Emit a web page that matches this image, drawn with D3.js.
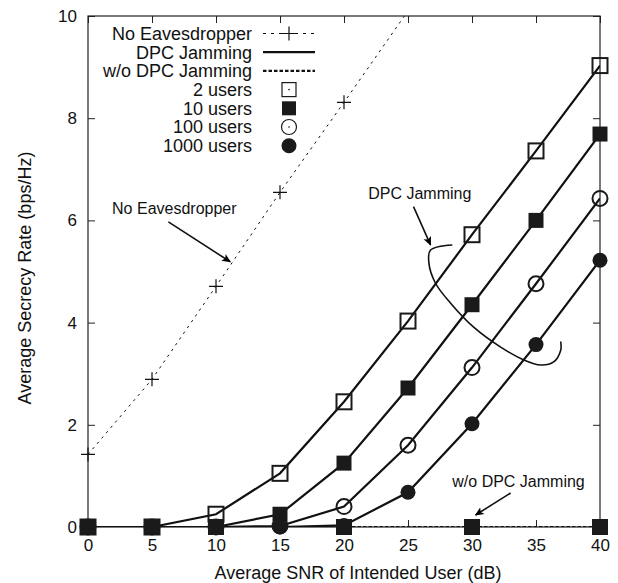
<!DOCTYPE html>
<html>
<head>
<meta charset="utf-8">
<script src="https://cdn.jsdelivr.net/npm/d3@7"></script>
<style>
  body { margin: 0; background: #fff; }
  svg { display: block; font-family: "Liberation Sans", Arial, Helvetica, sans-serif; }
</style>
</head>
<body>
<svg id="chart" width="618" height="583"></svg>
<script>
const width = 618;
const height = 583;

// x values (dB) and the series
const snr = [0, 5, 10, 15, 20, 25, 30, 35, 40];
const snrNoEve = [0, 5, 10, 15, 20, 25];
const noEve = [1.42, 2.89, 4.71, 6.55, 8.31, 10.1];
const dpc2 = [0, 0, 0.25, 1.05, 2.45, 4.03, 5.72, 7.36, 9.03];
const dpc10 = [0, 0, 0, 0.25, 1.25, 2.72, 4.35, 6.0, 7.69];
const dpc100 = [0, 0, 0, 0.02, 0.4, 1.6, 3.12, 4.76, 6.43];
const dpc1000 = [0, 0, 0, 0, 0.03, 0.68, 2.02, 3.57, 5.22];
const woDpc = [0, 0, 0, 0, 0, 0, 0, 0, 0];
const woDpcMarkX = [0, 10, 20, 30, 40];

const xTicks = [0, 5, 10, 15, 20, 25, 30, 35, 40];
const yTicks = [0, 2, 4, 6, 8, 10];

const legendLabels = ["No Eavesdropper", "DPC Jamming", "w/o DPC Jamming",
    "2 users", "10 users", "100 users", "1000 users"];

// annotation anchors, in data units
const ellipse = [[28.46, 5.52], [26.76, 5.42], [26.63, 5.17], [27.15, 4.77], [28.33, 4.38],
    [30.13, 3.91], [32.24, 3.52], [34.04, 3.27], [35.37, 3.17], [36.38, 3.23],
    [36.93, 3.46], [36.93, 3.63]];

const margin = { left: 88, right: 18, top: 16, bottom: 56 };

const svg = d3.select("#chart");

const x = d3.scaleLinear().domain([0, 40]).range([margin.left, width - margin.right]);
const y = d3.scaleLinear().domain([0, 10]).range([height - margin.bottom, margin.top]);

svg.append("defs").append("clipPath").attr("id", "plot")
    .append("rect")
    .attr("x", x(0)).attr("y", y(10))
    .attr("width", x(40) - x(0)).attr("height", y(0) - y(10));

const defs = svg.select("defs");
defs.append("marker")
    .attr("id", "arrow")
    .attr("viewBox", "0 0 10 10")
    .attr("refX", 9).attr("refY", 5)
    .attr("markerWidth", 9).attr("markerHeight", 9)
    .attr("markerUnits", "userSpaceOnUse")
    .attr("orient", "auto")
    .append("path")
    .attr("d", "M0,0.5L10,5L0,9.5L2.5,5Z")
    .attr("fill", "#000");

// axes with inward ticks, gnuplot style
const tk = 7;
svg.append("g")
    .attr("transform", `translate(0,${y(0)})`)
    .call(d3.axisBottom(x).tickValues(xTicks).tickSizeInner(-tk).tickSizeOuter(0).tickPadding(12))
    .call(g => g.select(".domain").remove());
svg.append("g")
    .attr("transform", `translate(0,${y(10)})`)
    .call(d3.axisTop(x).tickValues(xTicks).tickSizeInner(-tk).tickSizeOuter(0).tickFormat(""))
    .call(g => g.select(".domain").remove());
svg.append("g")
    .attr("transform", `translate(${x(0)},0)`)
    .call(d3.axisLeft(y).tickValues(yTicks).tickSizeInner(-tk).tickSizeOuter(0).tickPadding(11))
    .call(g => g.select(".domain").remove());
svg.append("g")
    .attr("transform", `translate(${x(40)},0)`)
    .call(d3.axisRight(y).tickValues(yTicks).tickSizeInner(-tk).tickSizeOuter(0).tickFormat(""))
    .call(g => g.select(".domain").remove());

svg.selectAll(".tick line").attr("stroke", "#222").attr("stroke-width", 1);
svg.selectAll(".tick text").attr("font-size", 17).attr("fill", "#111")
    .attr("font-family", "Liberation Sans, Arial, sans-serif");

svg.append("rect")
    .attr("x", x(0)).attr("y", y(10))
    .attr("width", x(40) - x(0)).attr("height", y(0) - y(10))
    .attr("fill", "none").attr("stroke", "#222").attr("stroke-width", 1.2);

// axis titles
svg.append("text")
    .attr("x", 358).attr("y", 579)
    .attr("text-anchor", "middle").attr("font-size", 18).attr("fill", "#111")
    .text("Average SNR of Intended User (dB)");
svg.append("text")
    .attr("transform", "translate(31,278) rotate(-90)")
    .attr("text-anchor", "middle").attr("font-size", 18).attr("fill", "#111")
    .text("Average Secrecy Rate (bps/Hz)");

const line = d3.line().x(d => x(d[0])).y(d => y(d[1]));
const plot = svg.append("g").attr("clip-path", "url(#plot)");

// w/o DPC jamming (dashed, at zero)
plot.append("path")
    .datum(snr.map((s, i) => [s, woDpc[i]]))
    .attr("d", line)
    .attr("fill", "none").attr("stroke", "#111")
    .attr("stroke-width", 2.2).attr("stroke-dasharray", "3.5,2");

// No eavesdropper (dotted)
const noEvePts = snrNoEve.map((s, i) => [s, noEve[i]]);
plot.append("path")
    .datum(noEvePts)
    .attr("d", line)
    .attr("fill", "none").attr("stroke", "#111")
    .attr("stroke-width", 1).attr("stroke-dasharray", "2.5,4.5");

const dpcSeries = [
    { v: dpc2, shape: "square", filled: false },
    { v: dpc10, shape: "square", filled: true },
    { v: dpc100, shape: "circle", filled: false },
    { v: dpc1000, shape: "circle", filled: true }
];

dpcSeries.forEach(s => {
    plot.append("path")
        .datum(snr.map((t, i) => [t, s.v[i]]))
        .attr("d", line)
        .attr("fill", "none").attr("stroke", "#111").attr("stroke-width", 2.2);
});

function drawMarker(g, shape, filled, cx, cy, size) {
    if (shape === "square") {
        g.append("rect")
            .attr("x", cx - size / 2).attr("y", cy - size / 2)
            .attr("width", size).attr("height", size)
            .attr("fill", filled ? "#1a1a1a" : "none")
            .attr("stroke", "#1a1a1a").attr("stroke-width", filled ? 0 : 2);
    } else if (shape === "circle") {
        g.append("circle")
            .attr("cx", cx).attr("cy", cy).attr("r", size / 2)
            .attr("fill", filled ? "#1a1a1a" : "none")
            .attr("stroke", "#1a1a1a").attr("stroke-width", filled ? 0 : 2);
    } else if (shape === "plus") {
        g.append("path")
            .attr("d", `M${cx - size / 2},${cy}H${cx + size / 2}M${cx},${cy - size / 2}V${cy + size / 2}`)
            .attr("stroke", "#111").attr("stroke-width", 1.2);
    }
}

const marks = svg.append("g");
dpcSeries.forEach(s => {
    snr.forEach((t, i) => drawMarker(marks, s.shape, s.filled, x(t), y(s.v[i]), 15));
});
woDpcMarkX.forEach(t => drawMarker(marks, "square", true, x(t), y(woDpc[snr.indexOf(t)]), 16));
noEvePts.filter(d => d[1] <= 10)
    .forEach(d => drawMarker(marks, "plus", false, x(d[0]), y(d[1]), 14));

// legend
const lg = svg.append("g");
const rowY = i => 33.5 + i * 18.7;
legendLabels.forEach((t, i) => {
    lg.append("text")
        .attr("x", 252).attr("y", rowY(i)).attr("dy", "0.35em")
        .attr("text-anchor", "end").attr("font-size", 18).attr("fill", "#111")
        .text(t);
});
lg.append("line").attr("x1", 263).attr("x2", 315).attr("y1", rowY(0)).attr("y2", rowY(0))
    .attr("stroke", "#111").attr("stroke-width", 1).attr("stroke-dasharray", "3,5");
drawMarker(lg, "plus", false, 289, rowY(0), 14);
lg.append("line").attr("x1", 263).attr("x2", 315).attr("y1", rowY(1)).attr("y2", rowY(1))
    .attr("stroke", "#111").attr("stroke-width", 2.2);
lg.append("line").attr("x1", 263).attr("x2", 315).attr("y1", rowY(2)).attr("y2", rowY(2))
    .attr("stroke", "#111").attr("stroke-width", 2.2).attr("stroke-dasharray", "3.5,2");
dpcSeries.forEach((s, i) => {
    drawMarker(lg, s.shape, s.filled, 289, rowY(i + 3), s.shape === "circle" ? 15 : 14);
    if (!s.filled) lg.append("circle").attr("cx", 289).attr("cy", rowY(i + 3)).attr("r", 0.8).attr("fill", "#111");
});
lg.selectAll("rect[fill='none'], circle[fill='none']").attr("stroke-width", 1.2);

// annotations
const ann = svg.append("g").attr("font-size", 16).attr("fill", "#111");
ann.append("text").attr("x", x(1.88)).attr("y", y(6.13)).text("No Eavesdropper");
ann.append("text").attr("x", x(29.95)).attr("y", y(6.42)).attr("text-anchor", "end").text("DPC Jamming");
ann.append("text").attr("x", x(28.46)).attr("y", y(0.78)).text("w/o DPC Jamming");

const arrows = [
    [[6.28, 5.97], [11.11, 5.19]],
    [[25.43, 6.27], [26.76, 5.52]],
    [[33.02, 0.665], [30.28, 0.235]]
];
arrows.forEach(a => {
    svg.append("path")
        .attr("d", line(a))
        .attr("stroke", "#111").attr("stroke-width", 1.6).attr("fill", "none")
        .attr("marker-end", "url(#arrow)");
});

svg.append("path")
    .attr("d", d3.line().x(d => x(d[0])).y(d => y(d[1])).curve(d3.curveCatmullRom)(ellipse))
    .attr("fill", "none").attr("stroke", "#111").attr("stroke-width", 1.6);
</script>
</body>
</html>
